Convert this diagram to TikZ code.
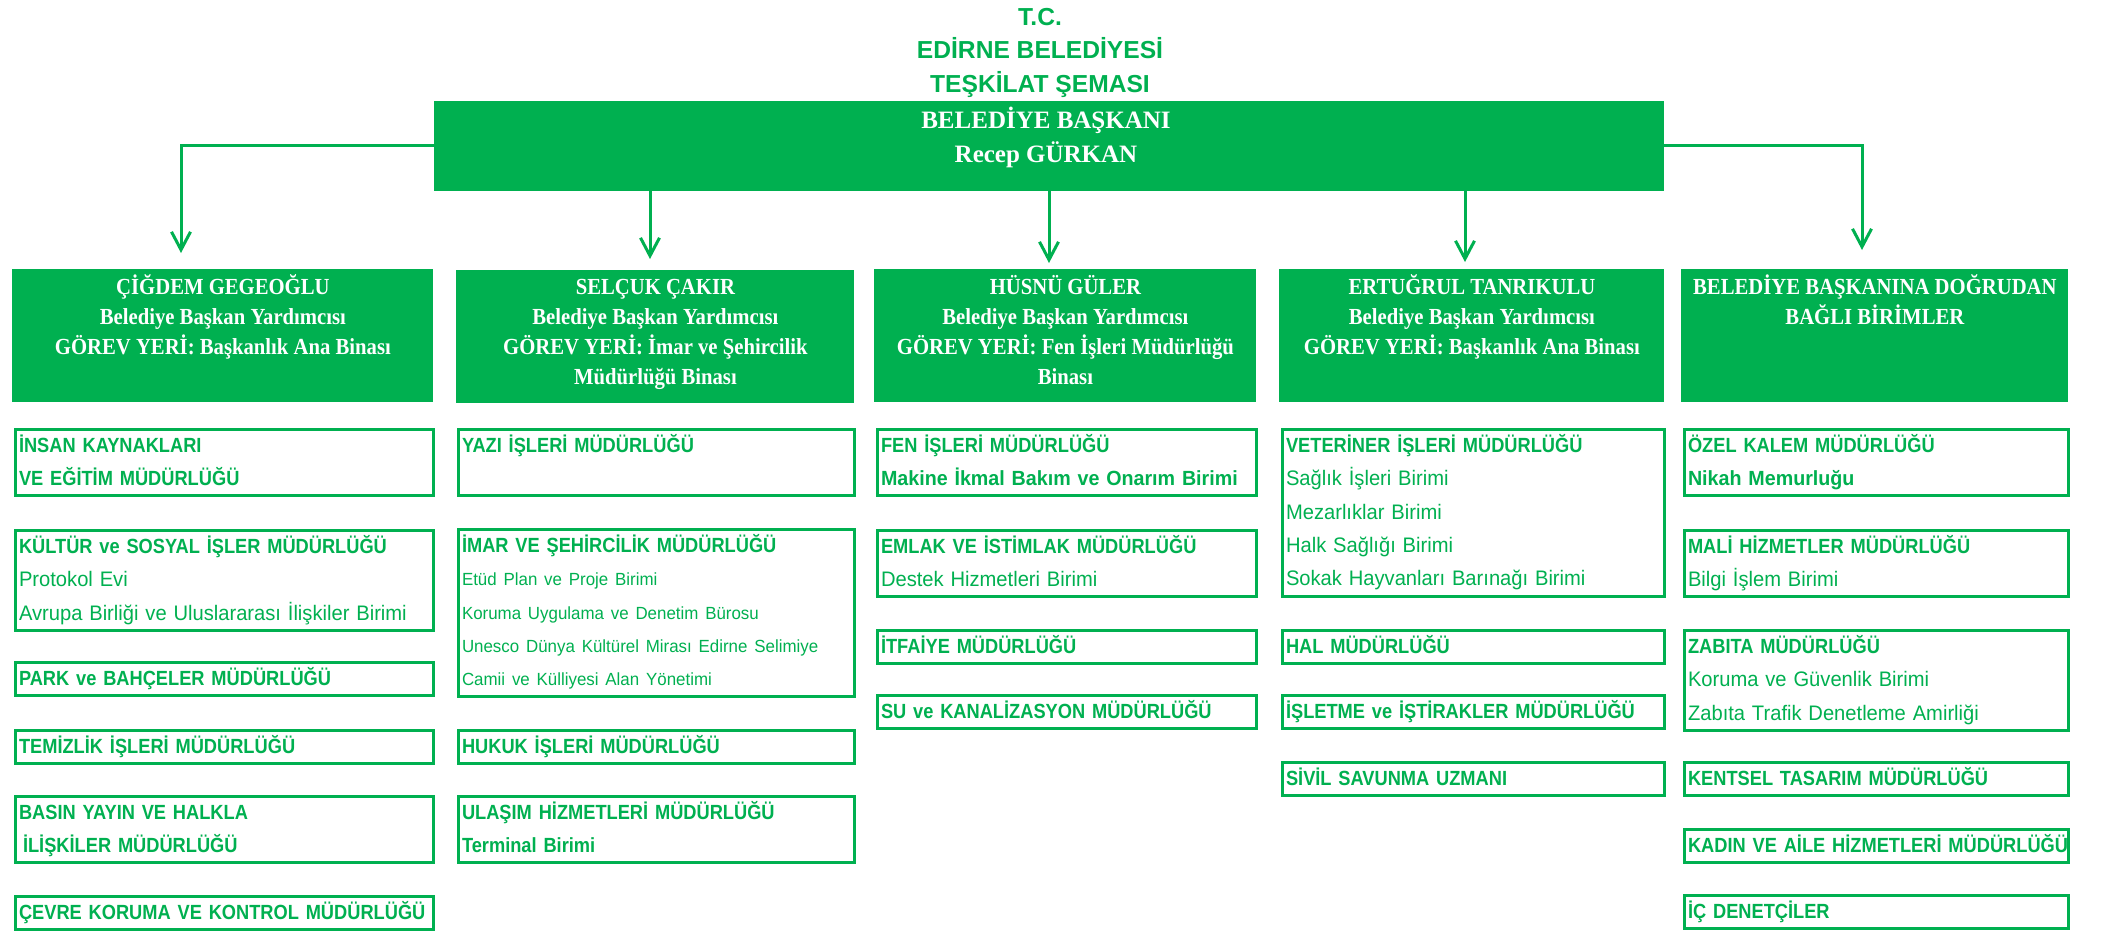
\documentclass[tikz,border=0pt]{standalone}
\usepackage{fontspec}
\usepackage{xcolor}
\usepackage{tikz}
\usetikzlibrary{arrows.meta}

\setmainfont{Liberation Serif}
\newfontfamily\titlesf{Liberation Sans}
\newfontfamily\narrowsf{Liberation Sans}[FakeStretch=0.89]
\newfontfamily\plainsf{Liberation Sans}[FakeStretch=0.96]
\newfontfamily\narrowrm{Liberation Serif}[FakeStretch=0.9]

\definecolor{ggreen}{RGB}{0,176,80}

% regular unit lines inside the boxes
\newcommand{\subline}[1]{{\plainsf\mdseries\fontsize{10.5}{16.7}\selectfont #1}}
\newcommand{\smallline}[1]{{\plainsf\mdseries\fontsize{8.8}{16.7}\selectfont #1}}
\newcommand{\wideline}[1]{{\plainsf\bfseries #1}}

\tikzset{
  strutted/.style={execute at begin node=\strut, execute at end node=\strut},
  subbox/.style={draw=ggreen, line width=1.5pt, fill=white, anchor=north west, text=ggreen,
    inner xsep=2pt, inner ysep=0pt, align=left, text width=#1, strutted,
    font=\narrowsf\bfseries\fontsize{10.25}{16.7}\selectfont},
  deputy/.style={fill=ggreen, anchor=north west, minimum width=#1, minimum height=66.5pt, inner sep=0pt},
  deputytext/.style={anchor=north, text=white, align=center, inner xsep=0pt, inner ysep=2.8pt, strutted,
    font=\narrowrm\bfseries\fontsize{11.5}{15}\selectfont},
  link/.style={draw=ggreen, line width=1.5pt, -{Straight Barb[length=9pt,width=9.5pt]}}
}

\begin{document}
\begin{tikzpicture}[x=0.5pt, y=-0.5pt]
        \useasboundingbox (0,0) rectangle (2105,931);

        % heading
        \node[font=\titlesf\bfseries\fontsize{12.3}{16.75}\selectfont, text=ggreen, align=center, strutted, inner sep=0pt] (title) at (1040,55) {T.C.\\ EDİRNE BELEDİYESİ\\ TEŞKİLAT ŞEMASI};

        % mayor
        \node[fill=ggreen, minimum width=615pt, minimum height=45pt, inner sep=0pt] (main) at (1049,146) {};
        \node[text=white, align=center, strutted, inner sep=0pt, font=\bfseries\fontsize{12.5}{17}\selectfont] (mayor) at (1046,139.5) {BELEDİYE BAŞKANI\\ Recep GÜRKAN};

        % deputies
        \node[deputy=210.5pt] (d1) at (12,269) {};
        \node[deputytext] (d1t) at (d1.north) {ÇİĞDEM GEGEOĞLU\\ Belediye Başkan Yardımcısı\\ GÖREV YERİ: Başkanlık Ana Binası};
        \node[deputy=199pt] (d2) at (456,270) {};
        \node[deputytext, yshift=-1.5pt] (d2t) at (d2.north) {SELÇUK ÇAKIR\\ Belediye Başkan Yardımcısı\\ GÖREV YERİ: İmar ve Şehircilik\\ Müdürlüğü Binası};
        \node[deputy=191pt] (d3) at (874,269) {};
        \node[deputytext] (d3t) at (d3.north) {HÜSNÜ GÜLER\\ Belediye Başkan Yardımcısı\\ GÖREV YERİ: Fen İşleri Müdürlüğü\\ Binası};
        \node[deputy=192.5pt] (d4) at (1279,269) {};
        \node[deputytext] (d4t) at (d4.north) {ERTUĞRUL TANRIKULU\\ Belediye Başkan Yardımcısı\\ GÖREV YERİ: Başkanlık Ana Binası};
        \node[deputy=193.5pt] (d5) at (1681,269) {};
        \node[deputytext] (d5t) at (d5.north) {BELEDİYE BAŞKANINA DOĞRUDAN\\ BAĞLI BİRİMLER};

        % arrows from the mayor
        \coordinate (t1) at (181,253);
        \coordinate (t2) at (650,259);
        \coordinate (t3) at (1049,263);
        \coordinate (t4) at (1465,262);
        \coordinate (t5) at (1862,250);
        \draw[link] (main.west) -| (t1);
        \draw[link] (main.south -| t2) -- (t2);
        \draw[link] (main.south -| t3) -- (t3);
        \draw[link] (main.south -| t4) -- (t4);
        \draw[link] (main.east) -| (t5);

        % first column
        \node[subbox=205pt] (insan) at (13.5,427.5) {İNSAN KAYNAKLARI\\ VE EĞİTİM MÜDÜRLÜĞÜ};
        \node[subbox=205pt] (kultur) at (13.5,528.5) {KÜLTÜR ve SOSYAL İŞLER MÜDÜRLÜĞÜ\\ \subline{Protokol Evi}\\ \subline{Avrupa Birliği ve Uluslararası İlişkiler Birimi}};
        \node[subbox=205pt] (park) at (13.5,660.5) {PARK ve BAHÇELER MÜDÜRLÜĞÜ};
        \node[subbox=205pt] (temizlik) at (13.5,728.5) {TEMİZLİK İŞLERİ MÜDÜRLÜĞÜ};
        \node[subbox=205pt] (basin) at (13.5,794.5) {BASIN YAYIN VE HALKLA\\ \hspace*{2pt}İLİŞKİLER MÜDÜRLÜĞÜ};
        \node[subbox=205pt] (cevre) at (13.5,894.5) {\mbox{ÇEVRE KORUMA VE KONTROL MÜDÜRLÜĞÜ}};

        % second column
        \node[subbox=194pt] (yazi) at (456.5,427.5) {YAZI İŞLERİ MÜDÜRLÜĞÜ\\ \mbox{}};
        \node[subbox=194pt] (imar) at (456.5,527.5) {İMAR VE ŞEHİRCİLİK MÜDÜRLÜĞÜ\\ \smallline{Etüd Plan ve Proje Birimi}\\ \smallline{Koruma Uygulama ve Denetim Bürosu}\\ \smallline{Unesco Dünya Kültürel Mirası Edirne Selimiye}\\ \smallline{Camii ve Külliyesi Alan Yönetimi}};
        \node[subbox=194pt] (hukuk) at (456.5,728.5) {HUKUK İŞLERİ MÜDÜRLÜĞÜ};
        \node[subbox=194pt] (ulasim) at (456.5,794.5) {ULAŞIM HİZMETLERİ MÜDÜRLÜĞÜ\\ Terminal Birimi};

        % third column
        \node[subbox=185.5pt] (fen) at (875.5,427.5) {FEN İŞLERİ MÜDÜRLÜĞÜ\\ \wideline{Makine İkmal Bakım ve Onarım Birimi}};
        \node[subbox=185.5pt] (emlak) at (875.5,528.5) {EMLAK VE İSTİMLAK MÜDÜRLÜĞÜ\\ \subline{Destek Hizmetleri Birimi}};
        \node[subbox=185.5pt] (itfaiye) at (875.5,628.5) {İTFAİYE MÜDÜRLÜĞÜ};
        \node[subbox=185.5pt] (su) at (875.5,693.5) {SU ve KANALİZASYON MÜDÜRLÜĞÜ};

        % fourth column
        \node[subbox=187pt] (veteriner) at (1280.5,427.5) {VETERİNER İŞLERİ MÜDÜRLÜĞÜ\\ \subline{Sağlık İşleri Birimi}\\ \subline{Mezarlıklar Birimi}\\ \subline{Halk Sağlığı Birimi}\\ \subline{Sokak Hayvanları Barınağı Birimi}};
        \node[subbox=187pt] (hal) at (1280.5,628.5) {HAL MÜDÜRLÜĞÜ};
        \node[subbox=187pt] (isletme) at (1280.5,693.5) {İŞLETME ve İŞTİRAKLER MÜDÜRLÜĞÜ};
        \node[subbox=187pt] (sivil) at (1280.5,760.5) {SİVİL SAVUNMA UZMANI};

        % fifth column
        \node[subbox=188pt] (ozel) at (1682.5,427.5) {ÖZEL KALEM MÜDÜRLÜĞÜ\\ \wideline{Nikah Memurluğu}};
        \node[subbox=188pt] (mali) at (1682.5,528.5) {MALİ HİZMETLER MÜDÜRLÜĞÜ\\ \subline{Bilgi İşlem Birimi}};
        \node[subbox=188pt] (zabita) at (1682.5,628.5) {ZABITA MÜDÜRLÜĞÜ\\ \subline{Koruma ve Güvenlik Birimi}\\ \subline{Zabıta Trafik Denetleme Amirliği}};
        \node[subbox=188pt] (kentsel) at (1682.5,760.5) {KENTSEL TASARIM MÜDÜRLÜĞÜ};
        \node[subbox=188pt] (kadin) at (1682.5,827.5) {\mbox{KADIN VE AİLE HİZMETLERİ MÜDÜRLÜĞÜ}};
        \node[subbox=188pt] (ic) at (1682.5,893.5) {İÇ DENETÇİLER};
\end{tikzpicture}
\end{document}
